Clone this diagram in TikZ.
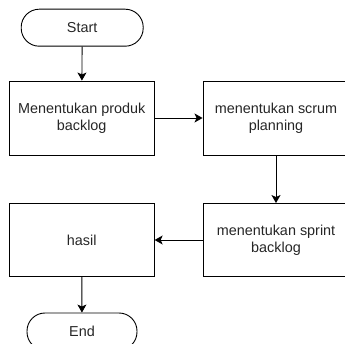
\documentclass[tikz,border=0pt]{standalone}
\usepackage{fontspec}
\setmainfont{Liberation Sans}
\usetikzlibrary{arrows.meta}
\begin{document}
\begin{tikzpicture}[x=1pt,y=-1pt,
  base/.style={draw=black, line width=0.9pt, text=black!85, inner sep=0pt, align=center,
    font=\fontsize{14.4}{17.3}\selectfont},
  term/.style={base, rectangle, rounded corners=18pt, minimum height=37pt},
  proc/.style={base, rectangle, minimum width=145pt, minimum height=74pt},
  conn/.style={draw=black, line width=0.9pt, -{Stealth[length=8pt,width=9pt,inset=2pt]}}]
\useasboundingbox (0,0) rectangle (345,344);
\node[term, minimum width=122pt] (start) at (82.2,27.7) {Start};
\node[proc] (b1) at (81.7,118) {Menentukan produk\\backlog};
\node[proc, minimum width=146pt] (b2) at (276,118) {menentukan scrum\\planning};
\node[proc, minimum width=146pt, minimum height=73pt] (b3) at (276,240) {menentukan sprint\\backlog};
\node[proc, minimum height=73pt] (b4) at (81.7,240) {hasil};
\node[term, minimum width=110pt] (end) at (82,331.5) {End};
\draw[conn] (start) -- (b1);
\draw[conn] (b1) -- (b2);
\draw[conn] (b2) -- (b3);
\draw[conn] (b3) -- (b4);
\draw[conn] (b4) -- (end);
\end{tikzpicture}
\end{document}
